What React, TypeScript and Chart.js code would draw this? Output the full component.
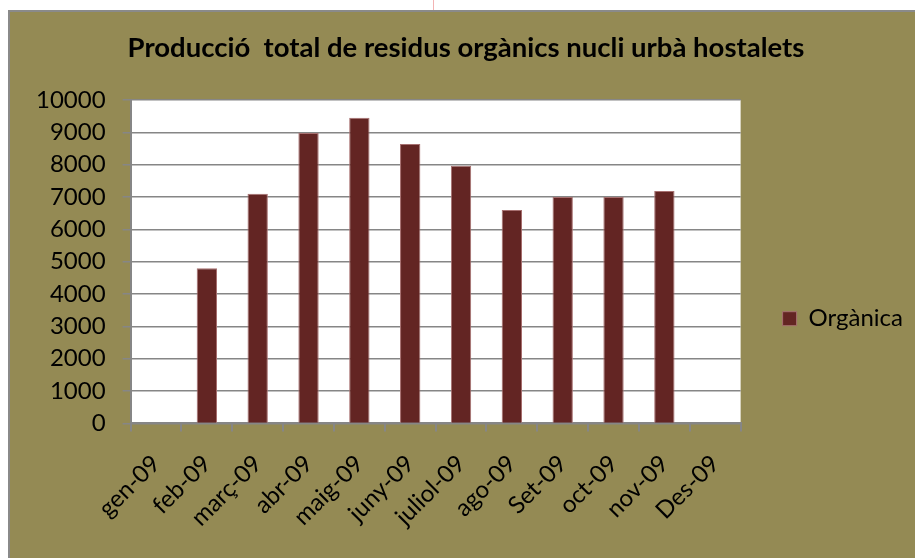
import React, { useEffect, useRef } from 'react';
import { Chart, registerables } from 'chart.js';

Chart.register(...registerables);

const categories = ['gen-09', 'feb-09', 'març-09', 'abr-09', 'maig-09', 'juny-09', 'juliol-09', 'ago-09', 'Set-09', 'oct-09', 'nov-09', 'Des-09'];
const organica: (number | null)[] = [null, 4800, 7100, 8980, 9450, 8640, 7970, 6600, 7000, 7000, 7190, null];
const seriesName = 'Orgànica';
const titleText = 'Producció  total de residus orgànics nucli urbà hostalets';
const yMin = 0;
const yMax = 10000;
const yStep = 1000;

const OLIVE = '#948A54';
const BAR = '#632523';
const GRID = '#868686';
const FONT = 'Lato, "Open Sans", sans-serif';
const X_TICK_PAD = 18;

const plotBg = {
  id: 'plotBg',
  beforeDraw(chart: any) {
    const { ctx, chartArea } = chart;
    if (!chartArea) return;
    ctx.save();
    ctx.fillStyle = '#ffffff';
    ctx.fillRect(chartArea.left, chartArea.top, chartArea.right - chartArea.left, chartArea.bottom - chartArea.top);
    ctx.restore();
  },
};

export default function App() {
  const ref = useRef<HTMLCanvasElement | null>(null);
  useEffect(() => {
    if (!ref.current) return;
    const chart = new Chart(ref.current, {
      type: 'bar',
      data: {
        labels: categories,
        datasets: [
          {
            label: seriesName,
            data: organica,
            backgroundColor: BAR,
            borderColor: '#a77070',
            borderWidth: 1,
            categoryPercentage: 1,
            barPercentage: 0.4,
          },
        ],
      },
      options: {
        animation: false,
        responsive: true,
        maintainAspectRatio: false,
        layout: { padding: { left: 9, right: 2, top: 0, bottom: 26 } },
        plugins: {
          title: {
            display: true,
            text: titleText,
            color: '#000',
            font: { family: FONT, size: 27.5, weight: 'bold' },
            padding: { top: 20, bottom: 35 },
          },
          legend: {
            display: true,
            position: 'right',
            title: { display: true, text: '', padding: { top: 79, bottom: 0 } },
            labels: {
              color: '#000',
              font: { family: FONT, size: 24 },
              boxWidth: 14,
              boxHeight: 14,
              padding: 42,
            },
          },
          tooltip: { enabled: false },
        },
        scales: {
          x: {
            afterFit: (scale: any) => {
              scale.height -= X_TICK_PAD;
            },
            grid: {
              display: true,
              drawOnChartArea: false,
              drawTicks: true,
              tickLength: 8,
              color: GRID,
              lineWidth: 2,
              offset: true,
            },
            border: { display: true, color: GRID, width: 2 },
            ticks: {
              color: '#000',
              font: { family: FONT, size: 24 },
              minRotation: 45,
              maxRotation: 45,
              autoSkip: false,
              padding: X_TICK_PAD,
            },
          },
          y: {
            min: yMin,
            max: yMax,
            grid: {
              color: GRID,
              lineWidth: 1.5,
              tickLength: 8,
              drawTicks: true,
            },
            border: { display: true, color: GRID, width: 2 },
            ticks: {
              stepSize: yStep,
              autoSkip: false,
              maxTicksLimit: 20,
              color: '#000',
              font: { family: FONT, size: 24, lineHeight: 1 },
              padding: 17,
              callback: (v: any) => String(v),
            },
          },
        },
      },
      plugins: [plotBg],
    });
    return () => chart.destroy();
  }, []);

  return (
    <>
      <div style={{ position: 'fixed', left: 433, top: 0, width: 1, height: 10, background: '#f3b3b3' }} />
      <div
        style={{
          position: 'fixed',
          left: 8,
          top: 10,
          width: 907,
          height: 548,
          boxSizing: 'border-box',
          borderTop: '2px solid #8a8a8a',
          borderLeft: '2px solid #8a8a8a',
          background: OLIVE,
        }}
      >
        <div style={{ position: 'relative', width: '100%', height: '100%' }}>
          <canvas ref={ref} />
        </div>
      </div>
    </>
  );
}
